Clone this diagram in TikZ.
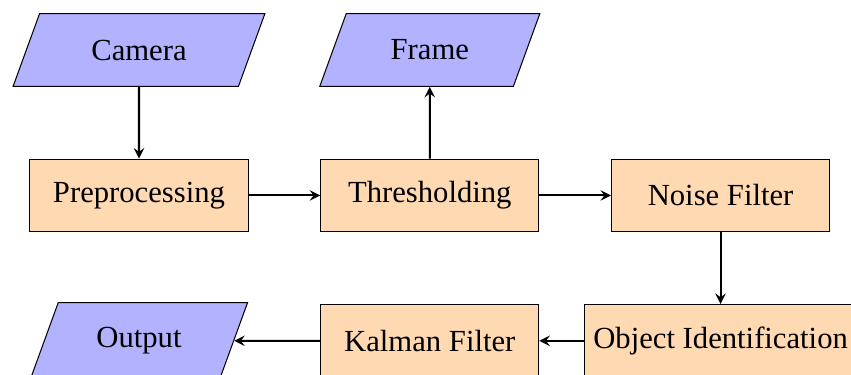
\documentclass[tikz,border=0pt]{standalone}
\usepackage{fontspec}
\setmainfont{Liberation Serif}
\usetikzlibrary{shapes.geometric,arrows}
\begin{document}
\begin{tikzpicture}[
  font=\fontsize{12}{14}\selectfont,
  io/.style={trapezium, trapezium left angle=70, trapezium right angle=110,
    minimum width=3cm, minimum height=1cm, inner xsep=1.5pt, text centered,
    draw=black, fill=blue!30},
  process/.style={rectangle, minimum width=3cm, minimum height=1cm,
    text centered, draw=black, fill=orange!30},
  arrow/.style={thick,->,>=stealth}
]
\useasboundingbox (-1.912,-4.470) rectangle (9.794,0.688);
% top row: inputs and outputs
\node[io] (camera) at (0,0) {Camera};
\node[io] (frame) at (4,0) {Frame};
% middle row: processing chain
\node[process] (pre) at (0,-2) {Preprocessing};
\node[process] (thresh) at (4,-2) {Thresholding};
\node[process] (noise) at (8,-2) {Noise Filter};
% bottom row
\node[process] (obj) at (8,-4) {Object Identification};
\node[process] (kalman) at (4,-4) {Kalman Filter};
\node[io] (output) at (0,-4) {Output};
% connectors
\draw[arrow] (camera) -- (pre);
\draw[arrow] (pre) -- (thresh);
\draw[arrow] (thresh) -- (frame);
\draw[arrow] (thresh) -- (noise);
\draw[arrow] (noise) -- (obj);
\draw[arrow] (obj) -- (kalman);
\draw[arrow] (kalman) -- (output);
\end{tikzpicture}
\end{document}
